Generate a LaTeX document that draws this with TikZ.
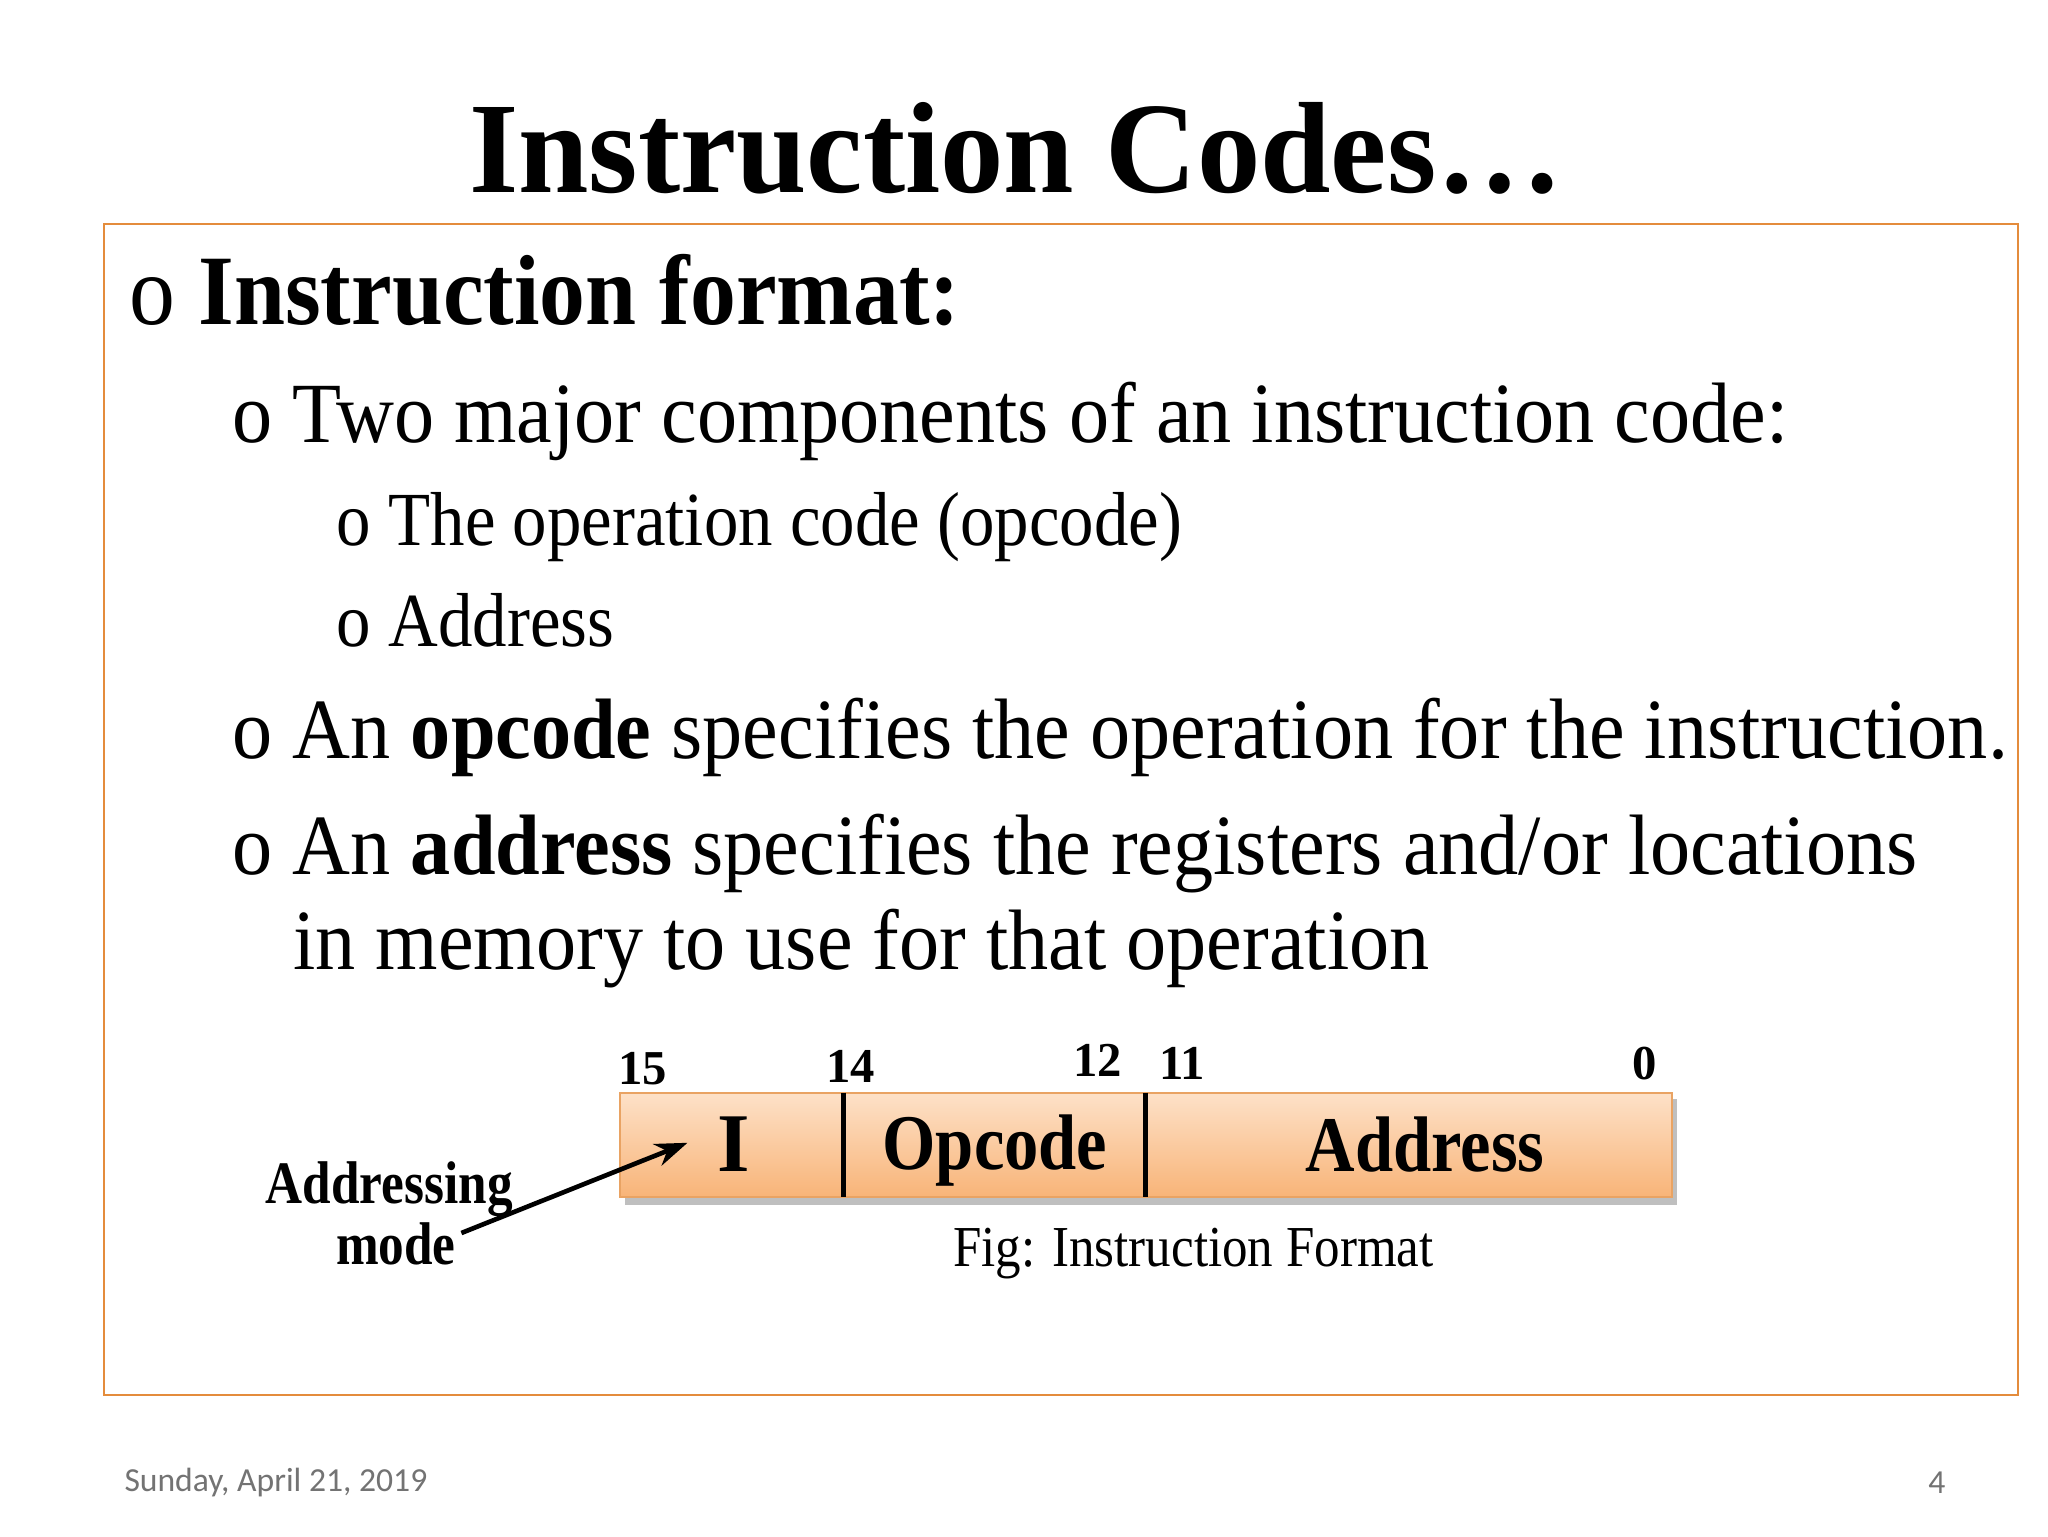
\documentclass[tikz,border=0pt]{standalone}
\usepackage{fontspec}
\setmainfont{Liberation Serif}
\newfontfamily\footfont{Carlito}
\usetikzlibrary{arrows.meta,shadows}
\definecolor{frameor}{RGB}{228,140,60}
\definecolor{peachtop}{RGB}{253,225,200}
\definecolor{peachbot}{RGB}{248,180,120}
\newcommand{\hsq}[2]{\scalebox{#1}[1]{#2}}
\begin{document}
\begin{tikzpicture}[x=0.02cm,y=-0.02cm,
  txt/.style={anchor=base west,inner sep=0pt},
  fld/.style={inner sep=0pt},
  num/.style={anchor=base west,inner sep=0pt,font=\fontsize{21}{21}\selectfont\bfseries}]
\useasboundingbox[fill=white] (0,0) rectangle (1552,1164);
\node[anchor=base,inner sep=0pt,font=\fontsize{56}{56}\selectfont\bfseries] (title) at (770,146) {\hsq{0.975}{Instruction Codes\ldots}};
\draw[frameor,line width=1pt] (79,170) rectangle (1529,1057);
\node[txt,font=\fontsize{43}{43}\selectfont] (b1) at (98,246) {\hsq{0.92}{o \textbf{Instruction format:}}};
\node[txt,font=\fontsize{37}{37}\selectfont] (b2) at (176,335) {\hsq{0.935}{o Two major components of an instruction code:}};
\node[txt,font=\fontsize{33}{33}\selectfont] (b3) at (255,413) {\hsq{0.90}{o The operation code (opcode)}};
\node[txt,font=\fontsize{33}{33}\selectfont] (b4) at (255,490) {\hsq{0.90}{o Address}};
\node[txt,font=\fontsize{37}{37}\selectfont] (b5) at (176,575) {\hsq{0.935}{o An \textbf{opcode} specifies the operation for the instruction.}};
\node[txt,font=\fontsize{37}{37}\selectfont] (b6) at (176,663) {\hsq{0.935}{o An \textbf{address} specifies the registers and/or locations}};
\node[txt,font=\fontsize{37}{37}\selectfont] (b7) at (222,735) {\hsq{0.935}{in memory to use for that operation}};
% field box
\fill[black!25] (474,833) rectangle (1271,913);
\shade[top color=peachtop,bottom color=peachbot,draw=frameor!80,line width=0.8pt] (470,828) rectangle (1267,907);
\draw[line width=2.2pt] (639,828) -- (639,907);
\draw[line width=2.2pt] (868,828) -- (868,907);
\node[fld,font=\fontsize{36}{36}\selectfont\bfseries] (fI) at (556,867) {I};
\node[fld,font=\fontsize{34}{34}\selectfont\bfseries] (fop) at (754,872) {\hsq{0.87}{Opcode}};
\node[fld,font=\fontsize{34}{34}\selectfont\bfseries] (fad) at (1080,867) {\hsq{0.87}{Address}};
\node[num] (n15) at (468,822) {15};
\node[num] (n14) at (626,820) {14};
\node[num] (n12) at (813,816) {12};
\node[num] (n11) at (878,818) {11};
\node[num] (n0) at (1237,818) {0};
\node[anchor=base,inner sep=0pt,font=\fontsize{26}{26}\selectfont\bfseries] (am1) at (295,912) {\hsq{0.85}{Addressing}};
\node[anchor=base,inner sep=0pt,font=\fontsize{26}{26}\selectfont\bfseries] (am2) at (300,958) {\hsq{0.85}{mode}};
\coordinate (atip) at (521,866);
\draw[line width=2pt,-{Stealth[length=14pt,width=10pt]}] (am2.east) ++(4,-8) -- (atip);
\node[txt,font=\fontsize{25}{25}\selectfont] (cap) at (722,960) {\hsq{0.88}{Fig: Instruction Format}};
\node[txt,font=\footfont\fontsize{14.5}{14.5}\selectfont,text=black!55] (date) at (94,1130) {Sunday, April 21, 2019};
\node[txt,font=\footfont\fontsize{14.5}{14.5}\selectfont,text=black!55] (pg) at (1461,1132) {4};
\end{tikzpicture}
\end{document}
